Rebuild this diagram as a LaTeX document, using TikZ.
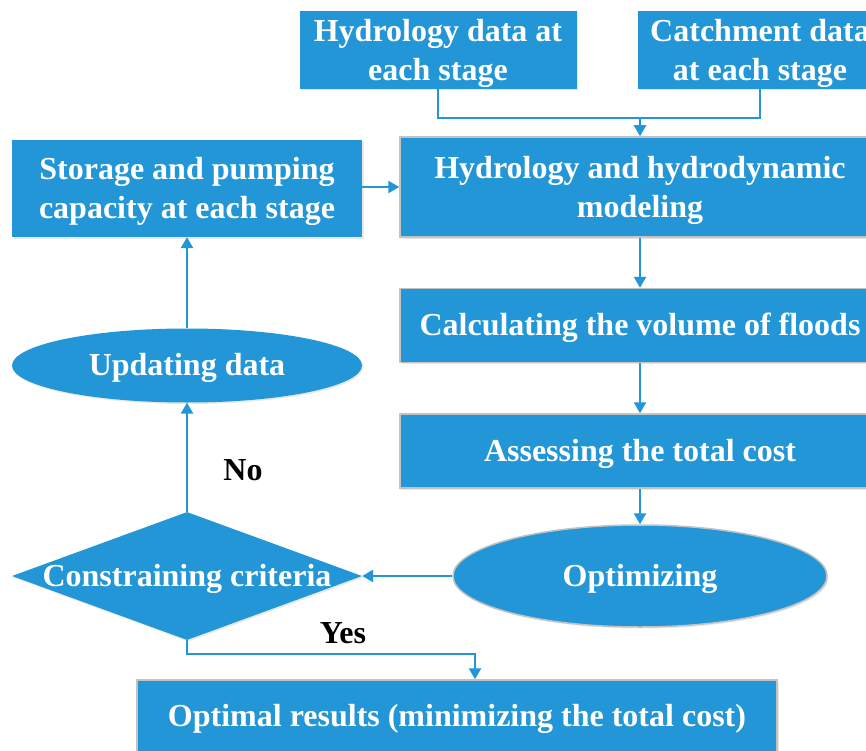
\documentclass[tikz,border=0pt]{standalone}
\usepackage{fontspec}
\setmainfont{Liberation Serif}
\usetikzlibrary{shapes.geometric,arrows.meta,shadows}
\definecolor{fblue}{RGB}{34,150,214}
\definecolor{bgray}{RGB}{195,195,195}
\newcommand{\mltext}[1]{\raisebox{-3pt}[\height][\depth]{\begin{tabular}{@{}c@{}}#1\end{tabular}}}
\begin{document}
\begin{tikzpicture}[x=1pt,y=-1pt,
  base/.style={fill=fblue, text=white, font=\bfseries\fontsize{32}{39}\selectfont, align=center, inner sep=0pt,
    drop shadow={opacity=0.18, shadow xshift=1.5pt, shadow yshift=-1.5pt}},
  one/.style={text height=27pt, text depth=7pt},
  box/.style={base, rectangle},
  gbox/.style={base, rectangle, draw=bgray, line width=1.5pt},
  gell/.style={base, ellipse, draw=bgray, line width=1.5pt},
  ell/.style={base, ellipse},
  dia/.style={base, diamond},
  txt/.style={text=white, font=\bfseries\fontsize{32}{39}\selectfont, inner sep=0pt, one},
  lbl/.style={text=black, font=\bfseries\fontsize{32}{39}\selectfont, inner sep=0pt},
  ln/.style={draw=fblue, line width=2.5pt},
  arr/.style={ln, -{Triangle[length=11pt,width=12pt]}}
]
\useasboundingbox (0,0) rectangle (866,751);
\fill[white] (0,0) rectangle (866,751);
\clip (0,0) rectangle (866,751);

\node[box, minimum width=277, minimum height=76] (hyd) at (438,50) {\mltext{Hydrology data at\\each stage}};
\node[box, minimum width=244, minimum height=76] (catch) at (760,50) {\mltext{Catchment data\\at each stage}};
\node[gbox, minimum width=480, minimum height=100] (model) at (640,187) {\mltext{Hydrology and hydrodynamic\\modeling}};
\node[box, minimum width=350, minimum height=97] (stor) at (187,188.5) {\mltext{Storage and pumping\\capacity at each stage}};
\node[gbox, one, minimum width=480, minimum height=74] (calc) at (640,325.5) {Calculating the volume of floods};
\node[gbox, one, minimum width=480, minimum height=74] (assess) at (640,451) {Assessing the total cost};
\node[gell, one, minimum width=374, minimum height=102] (opt) at (640,576) {Optimizing};
\node[dia, minimum width=350, minimum height=128] (crit) at (187,576) {};
\node[txt] (critt) at (crit.center) {Constraining criteria};
\node[ell, one, minimum width=350, minimum height=74] (upd) at (187,365.5) {Updating data};
\node[gbox, one, minimum width=640, minimum height=72] (res) at (457,716) {Optimal results (minimizing the total cost)};

\node[lbl] (no) at (243,470) {No};
\node[lbl] (yes) at (343,633) {Yes};

\coordinate (j) at (640,118);
\draw[ln] (hyd.south) |- (j);
\draw[ln] (catch.south) |- (j);
\draw[arr] (j) -- (model.north);
\draw[arr] (stor.east |- model.west) -- (model.west);
\draw[arr] (model.south) -- (calc.north);
\draw[arr] (calc.south) -- (assess.north);
\draw[arr] (assess.south) -- (opt.north);
\draw[arr] (opt.west) -- (crit.east);
\draw[arr] (crit.north) -- (upd.south);
\draw[arr] (upd.north) -- (stor.south);
\coordinate (k) at (475,654);
\draw[arr] (crit.south) |- (k) -- (k |- res.north);
\end{tikzpicture}
\end{document}
